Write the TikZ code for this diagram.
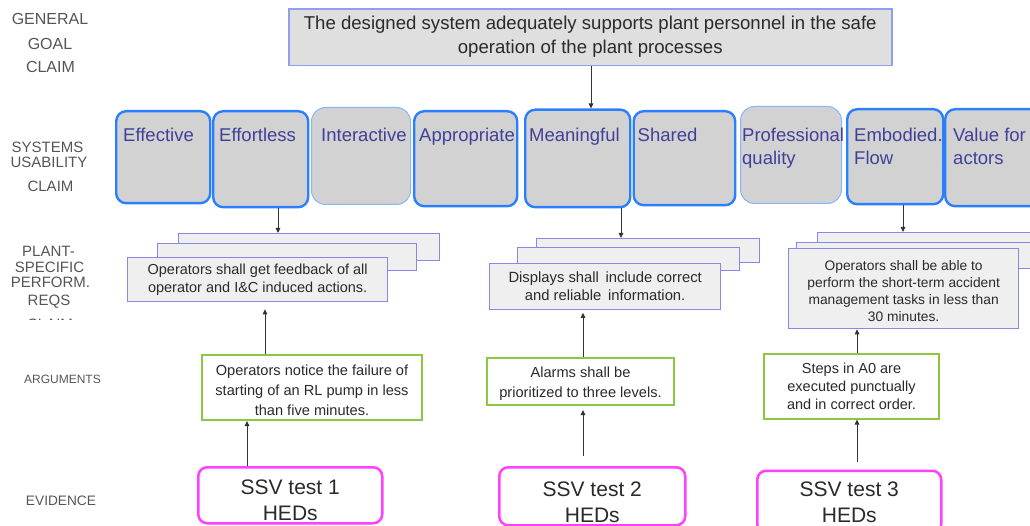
\documentclass[tikz,border=0pt]{standalone}
\usepackage{fontspec}
\setmainfont{Liberation Sans}
\usetikzlibrary{arrows.meta,calc}

\definecolor{labelgray}{HTML}{555555}
\definecolor{goalfill}{HTML}{DFDFDF}
\definecolor{goaldraw}{HTML}{8F9FF0}
\definecolor{ufill}{HTML}{D2D2D2}
\definecolor{udraw}{HTML}{2A7FFF}
\definecolor{ulight}{HTML}{8AB4FF}
\definecolor{utext}{HTML}{40409A}
\definecolor{rfill}{HTML}{EFEFEF}
\definecolor{rdraw}{HTML}{8888E8}
\definecolor{argdraw}{HTML}{8DC63F}
\definecolor{evdraw}{HTML}{FF40FF}
\definecolor{arrowgray}{HTML}{333333}
\definecolor{bodytext}{HTML}{2A2A2A}

% box from its top-left (x1,y1) to its bottom-right (x2,y2)
\newcommand\panel[6]{%
  \node[#1, anchor=north west, inner sep=0pt,
        minimum width={#5pt-#3pt}, minimum height={#6pt-#4pt}] (#2) at (#3,#4) {};}

\begin{document}
\begin{tikzpicture}[x=1pt,y=-1pt,
  lbl/.style={text=labelgray, font=\fontsize{15}{15}\selectfont, anchor=base, inner sep=0pt},
  goalbox/.style={fill=goalfill, draw=goaldraw, line width=1.5pt},
  goaltext/.style={text=bodytext, font=\fontsize{18.6}{24}\selectfont, align=center, inner sep=0pt},
  ubox/.style={fill=ufill, draw=udraw, line width=2.4pt, rounded corners=10pt},
  uboxlight/.style={fill=ufill, draw=ulight, line width=1pt, rounded corners=14pt},
  utxt/.style={text=utext, font=\fontsize{18.5}{23}\selectfont, align=left, anchor=north west, inner sep=0pt},
  reqbox/.style={fill=rfill, draw=rdraw, line width=1.3pt},
  reqtext/.style={text=bodytext, font=\fontsize{14.5}{18}\selectfont, align=center, inner sep=0pt},
  argbox/.style={fill=white, draw=argdraw, line width=2pt},
  argtext/.style={text=bodytext, font=\fontsize{14.6}{20}\selectfont, align=center, inner sep=0pt},
  evbox/.style={fill=white, draw=evdraw, line width=2.5pt, rounded corners=9pt},
  evtext/.style={text=bodytext, font=\fontsize{21}{26}\selectfont, align=center, inner sep=0pt},
  arr/.style={draw=arrowgray, line width=0.9pt, -{Triangle[length=5pt,width=4.5pt]}}
]
\useasboundingbox (0,0) rectangle (1030,526);
\clip (0,0) rectangle (1030,526);

% ---- level labels
\begin{scope}[lbl/.append style={font=\fontsize{16}{16}\selectfont}]
\node[lbl] (l-gen) at (50,25) {GENERAL};
\node[lbl] (l-goal) at (50,50) {GOAL};
\node[lbl] (l-claim1) at (50.5,73) {CLAIM};
\end{scope}
\node[lbl] (l-sys) at (47.5,153) {SYSTEMS};
\node[lbl] (l-usa) at (49,168) {USABILITY};
\node[lbl] (l-claim2) at (50.5,191.5) {CLAIM};
\node[lbl] (l-plant) at (48.5,257) {PLANT-};
\node[lbl] (l-spec) at (49.5,273) {SPECIFIC};
\node[lbl] (l-perf) at (50.5,288) {PERFORM.};
\node[lbl] (l-reqs) at (49,306) {REQS};
\begin{scope}
  \clip (0,310) rectangle (120,319.5);
  \node[lbl] (l-claim3) at (50,330) {CLAIM};
\end{scope}
\node[lbl, font=\fontsize{12}{12}\selectfont] (l-arg) at (62.5,383) {ARGUMENTS};
\node[lbl, font=\fontsize{13.7}{13.7}\selectfont] (l-evi) at (61,505) {EVIDENCE};

% ---- general goal claim
\panel{goalbox}{goal}{288}{8.5}{891}{65}
\node[goaltext] (goal-t) at ($(goal.center)+(0,-0.5)$)
  {The designed system adequately supports plant personnel in the safe\\operation of the plant processes};

% ---- systems usability claims
\panel{ubox}{eff}{115}{110}{209}{202}
\panel{ubox}{effl}{212}{110}{307}{206}
\panel{uboxlight}{inter}{311}{107}{410}{204}
\panel{ubox}{appr}{413}{110}{516}{205}
\panel{ubox}{mean}{524}{108.5}{629}{206}
\panel{ubox}{shar}{632.5}{110}{734}{204}
\panel{uboxlight}{prof}{740}{106}{841}{203}
\panel{ubox}{embo}{846}{108}{942}{203}
\panel{ubox}{valu}{944}{108}{1070}{205}

\node[utxt] (eff-t) at (123,127.5) {Effective};
\node[utxt] (effl-t) at (219,127.5) {Effortless};
\node[utxt] (inter-t) at (321,127.5) {Interactive};
\node[utxt] (appr-t) at (419,127.5) {Appropriate};
\node[utxt] (mean-t) at (529,127.5) {Meaningful};
\node[utxt] (shar-t) at (637.5,127.5) {Shared};
\node[utxt] (prof-t) at (742,127.5) {Professional\\quality};
\node[utxt] (embo-t) at (854,127.5) {Embodied.\\Flow};
\node[utxt] (valu-t) at (953,127.5) {Value for\\actors};

% ---- plant-specific performance requirements (stacked sheets)
\panel{reqbox}{r1c}{178}{233}{439}{260}
\panel{reqbox}{r1b}{157}{243}{416}{270}
\panel{reqbox}{r1a}{127}{257}{387}{301}
\node[reqtext] (r1-t) at ($(r1a.center)+(0,0.5)$)
  {Operators shall get feedback of all\\operator and I\&C induced actions.};

\panel{reqbox}{r2c}{536}{238}{759}{262}
\panel{reqbox}{r2b}{517}{247}{739}{270}
\panel{reqbox}{r2a}{489}{263}{720}{309}
\node[reqtext, font=\fontsize{14.8}{17.5}\selectfont] (r2-t) at ($(r2a.center)+(0,-0.5)$)
  {Displays shall\, include correct\\and reliable\, information.};

\panel{reqbox}{r3c}{817}{232}{1070}{256}
\panel{reqbox}{r3b}{796}{242}{1070}{268}
\panel{reqbox}{r3a}{788}{248}{1018}{328}
\node[reqtext, font=\fontsize{13.8}{17.2}\selectfont] (r3-t) at ($(r3a.center)+(0,2.5)$)
  {Operators shall be able to\\perform the short-term accident\\management tasks in less than\\30 minutes.};

% ---- arguments
\panel{argbox}{arg1}{201}{354}{421}{419}
\node[argtext] (arg1-t) at ($(arg1.center)+(0,3)$)
  {Operators notice the failure of\\starting of an RL pump in less\\than five minutes.};
\panel{argbox}{arg2}{486}{357}{673}{403.5}
\node[argtext] (arg2-t) at ($(arg2.center)+(0,2.4)$)
  {Alarms shall be\\prioritized to three levels.};
\panel{argbox}{arg3}{763}{353}{938}{417.5}
\node[argtext, font=\fontsize{14.5}{17.8}\selectfont] (arg3-t) at ($(arg3.center)+(0,0)$)
  {Steps in A0 are\\executed punctually\\and in correct order.};

% ---- evidence
\panel{evbox}{ev1}{197}{466}{381}{522}
\node[evtext] (ev1-t) at ($(ev1.north)+(0,34)$) {SSV test 1\\HEDs};
\panel{evbox}{ev2}{498}{466}{684}{524}
\node[evtext] (ev2-t) at ($(ev2.north)+(0,36)$) {SSV test 2\\HEDs};
\panel{evbox}{ev3}{756}{469.5}{940}{532}
\node[evtext] (ev3-t) at ($(ev3.north)+(0,32.5)$) {SSV test 3\\HEDs};

% ---- connector columns
\coordinate (x0) at (591,0);
\coordinate (x1) at (278,0);
\coordinate (x2) at (621,0);
\coordinate (x3) at (903,0);
\coordinate (xa1) at (265,0);
\coordinate (xa2) at (583,0);
\coordinate (xa3) at (857,0);
\coordinate (xe1) at (247,0);
\coordinate (xe2) at (583,0);
\coordinate (xe3) at (857,0);

% ---- connectors
\draw[arr] (goal.south -| x0) -- (mean.north -| x0);
\draw[arr] (effl.south -| x1) -- (r1c.north -| x1);
\draw[arr] (mean.south -| x2) -- (r2c.north -| x2);
\draw[arr] (embo.south -| x3) -- (r3c.north -| x3);
\draw[arr, shorten >=7pt] (arg1.north -| xa1) -- (r1a.south -| xa1);
\draw[arr, shorten >=2.5pt] (arg2.north -| xa2) -- (r2a.south -| xa2);
\draw[arr] (arg3.north -| xa3) -- (r3a.south -| xa3);
\draw[arr] (ev1.north -| xe1) -- (arg1.south -| xe1);
\draw[arr, shorten <=10pt, shorten >=4.5pt] (ev2.north -| xe2) -- (arg2.south -| xe2);
\draw[arr, shorten <=7.5pt] (ev3.north -| xe3) -- (arg3.south -| xe3);
\end{tikzpicture}
\end{document}
